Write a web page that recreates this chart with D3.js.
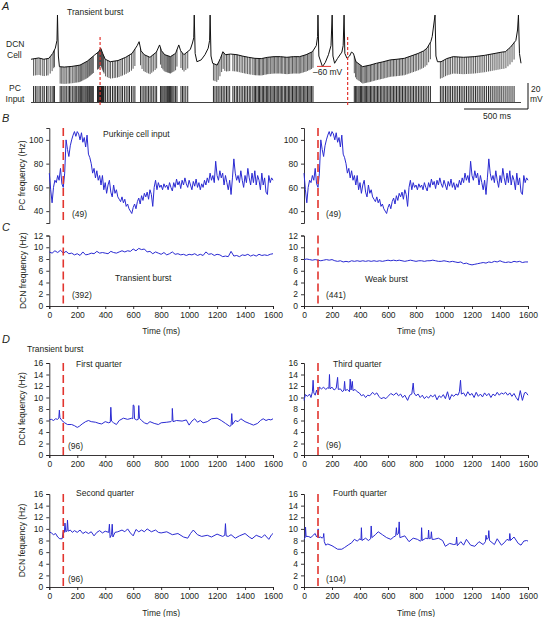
<!DOCTYPE html>
<html><head><meta charset="utf-8">
<script src="https://cdn.jsdelivr.net/npm/d3@7"></script>
<style>
body{margin:0;background:#fff;}
svg{display:block;font-family:"Liberation Sans",Arial,Helvetica,sans-serif;}
</style></head><body>
<svg id="chart" width="545" height="617"></svg>
<script>
// ---------------- DATA ----------------
// Panel A: DCN membrane potential key points [time ms, mV]
const dcnTrace = [[0,-52.5],[60,-51.5],[100,-52.5],[140,-51.8],[170,-48],[190,-44],[203,-38],[207,-18.5],[214,-50],[222,-58.2],[260,-58.5],[320,-58],[383,-57],[440,-54],[500,-49],[530,-46.7],[545,-44],[560,-48],[580,-52.5],[620,-54.4],[680,-53.5],[740,-51],[790,-48],[830,-42],[845,-39],[860,-46],[885,-49],[930,-51],[980,-47],[1005,-41.5],[1020,-46],[1045,-49],[1090,-50.5],[1130,-48],[1155,-41.5],[1170,-46],[1195,-49],[1220,-47],[1245,-45],[1262,-40],[1272,-36],[1276,-18.5],[1283,-48],[1297,-54.4],[1330,-53],[1360,-49],[1385,-44],[1396,-38],[1400,-18.5],[1407,-50],[1420,-55.6],[1455,-57],[1480,-52],[1500,-46.7],[1520,-49],[1560,-48.5],[1610,-49],[1650,-50],[1700,-51],[1750,-51.8],[1800,-52],[1850,-51],[1900,-50.5],[1950,-50.5],[2000,-51],[2050,-50.5],[2100,-50.5],[2150,-49],[2200,-46.7],[2230,-42],[2240,-35],[2243,-18.5],[2250,-50],[2278,-58.2],[2300,-55],[2325,-49],[2345,-42],[2354,-18.5],[2360,-50],[2373,-55.6],[2395,-52],[2430,-47],[2440,-42],[2447,-18.5],[2453,-48],[2470,-51.8],[2490,-50],[2505,-47],[2520,-48],[2540,-54.4],[2592,-58.2],[2650,-57],[2700,-55.6],[2750,-54.5],[2808,-53],[2860,-52.5],[2918,-51.8],[2970,-50],[3027,-48],[3070,-46],[3095,-44],[3125,-39],[3136,-35],[3158,-18.5],[3165,-50],[3177,-54.4],[3205,-54.4],[3250,-52],[3300,-50.5],[3380,-51],[3464,-50.5],[3545,-49.5],[3627,-48],[3680,-47],[3708,-46.7],[3750,-43],[3790,-38],[3803,-30],[3810,-18.5],[3818,-48],[3830,-55.6]];

// Panel A: Purkinje cell input spike times (ms)
const pcSpikes = [20,34,47,63,76,92,104,121,133,150,165,178,183,
228,240,251,265,276,290,301,312,326,337,350,358,369,377,388,396,405,414,423,431,440,447,456,463,471,479,487,
520,525,530,534,539,543,548,552,557,561,566,571,
583,597,610,622,637,650,662,676,688,703,715,730,744,758,770,785,798,812,
856,868,882,893,906,918,931,944,956,970,982,
1012,1022,1031,1040,1048,1057,1066,1074,1083,1091,1100,1109,1118,1130,1141,1172,1184,1196,1210,1225,
1426,1438,1452,1463,1477,1490,1502,1515,1528,1540,1553,
1578,1590,1604,1615,1628,1642,1655,1668,1680,1693,1706,1718,
1734,1745,1755,1766,1777,1786,1797,1808,1818,1829,1840,1850,1860,1871,1883,1893,1904,1915,1925,1936,1947,1957,1968,1980,1990,2001,2012,2022,2033,2044,2055,2065,2076,2087,2097,2108,2118,2129,2140,2150,2161,2172,2182,2193,2204,
2527,2537,2546,2556,2565,2575,2584,2594,2604,2613,2623,2633,2643,2654,2664,2675,2686,2697,2708,2719,2731,2742,2753,2765,2776,2788,2799,2811,2822,2834,2845,2857,2869,2881,2892,2904,2916,2928,2940,2953,2965,2978,2990,3003,3015,3028,3041,3054,3067,3080,3094,3108,3122,
3200,3213,3226,3240,3253,3267,3280,3294,3308,3321,3335,3349,3362,3376,3390,3404,3418,3432,3446,3460,3474,3488,3503,3517,3532,3546,3561,3576,3590,3605,3620,3635,3650,3665,3680,3696,3712,3728,3744,3760,3776];

const markerTimesA = [540, 2475];   // red dashed markers in A (ms)

// Panel B: PC frequency (Hz), 10 ms bins from 0 to 1600 ms
const pcStepMs = 10;
const pcFreqHz = [72,58,47,60,66,64,70,66,76,63,60,72,100,92,86,95,100,104,107,103,
107,105,100,106,98,102,94,104,88,85,80,72,76,68,74,66,70,62,70,58,
64,55,62,66,56,52,62,55,58,52,50,48,52,47,50,44,46,42,40,38,
43,46,42,48,51,46,53,49,55,52,56,50,58,54,44,60,66,58,64,60,
62,58,63,60,62,58,64,60,57,64,60,67,62,65,59,66,62,68,63,60,
66,62,58,65,61,67,60,64,58,63,60,66,62,68,64,72,66,70,64,82,
70,66,74,68,72,62,70,64,58,66,54,68,84,72,66,70,64,74,66,60,
70,64,76,68,62,72,64,74,62,70,66,58,72,62,68,56,54,70,64,68,66];

// Panel C: DCN frequency (Hz), 20 ms bins
const dcnStepMs = 20;
const dcnTransientHz = [9.2,9.0,9.4,9.1,9.5,9.0,9.3,8.9,9.0,8.7,8.9,8.6,9.2,8.7,8.8,9.0,8.9,9.3,9.0,9.1,
9.0,8.9,9.3,9.1,9.0,9.2,9.4,9.2,9.4,9.3,9.7,9.4,9.8,9.6,9.7,9.2,9.3,8.9,9.2,9.0,
8.8,9.1,8.7,8.9,9.2,8.8,8.9,8.7,8.8,8.6,8.8,8.7,8.9,8.6,8.8,8.6,9.2,8.8,8.9,8.6,
8.8,8.7,8.4,8.5,8.4,9.3,8.5,8.6,8.4,8.7,8.6,8.8,8.5,8.7,8.5,8.8,8.6,8.7,8.6,8.8,8.9];
const dcnWeakHz = [7.9,8.0,7.9,7.8,7.9,7.8,7.7,7.8,7.9,7.8,7.9,7.7,7.6,7.7,7.5,7.6,7.5,7.7,7.6,7.7,
7.6,7.7,7.6,7.7,7.6,7.7,7.6,7.7,7.6,7.7,7.8,7.7,7.8,7.7,7.8,7.7,7.6,7.7,7.8,7.7,
7.6,7.7,7.7,7.6,7.7,7.7,7.8,7.7,7.6,7.6,7.7,7.6,7.5,7.6,7.5,7.4,7.5,7.2,7.3,7.1,
7.0,7.1,7.2,7.3,7.4,7.3,7.5,7.4,7.6,7.5,7.7,7.5,7.4,7.5,7.4,7.6,7.5,7.6,7.4,7.5,7.5];

// Panel D: DCN frequency by quarter [time ms, Hz]
const dFirst = [[0,6.1],[15,6.2],[30,6.0],[45,6.3],[60,6.2],[68,6.4],[72,7.8],[76,6.5],[90,6.0],[110,5.6],[130,5.3],[160,5.3],[180,5.1],[200,4.8],[215,5.0],[235,5.4],[260,5.8],[280,6.0],[300,5.8],[330,5.7],[355,5.5],[375,5.4],[400,5.8],[425,5.6],[436,5.7],[440,8.3],[445,5.9],[460,5.6],[480,5.3],[500,6.0],[530,6.4],[560,6.2],[590,6.4],[597,6.3],[600,8.7],[606,8.6],[610,6.3],[625,6.1],[636,6.2],[640,8.6],[645,6.4],[660,6.0],[680,5.6],[700,5.4],[720,5.8],[750,5.5],[780,5.3],[800,5.6],[840,5.7],[870,5.8],[878,6.0],[880,8.1],[885,5.8],[910,6.0],[950,5.9],[980,6.1],[1000,5.2],[1020,5.9],[1040,6.3],[1060,5.7],[1080,6.0],[1100,5.6],[1130,5.8],[1160,6.3],[1200,6.4],[1230,6.0],[1260,5.5],[1290,5.0],[1300,5.1],[1305,7.2],[1310,5.3],[1330,6.0],[1350,5.8],[1370,6.3],[1400,5.8],[1430,5.5],[1460,5.2],[1490,5.5],[1510,6.0],[1530,6.3],[1550,6.0],[1570,6.2],[1585,6.1],[1600,6.3]];
const dSecond = [[0,9.5],[15,9.3],[30,9.0],[45,9.2],[60,8.6],[75,8.3],[92,8.3],[100,9.6],[108,9.4],[112,11.0],[118,9.5],[126,9.6],[130,11.5],[135,9.6],[150,9.8],[165,9.4],[180,9.7],[200,9.4],[220,9.8],[240,9.2],[260,9.5],[280,9.2],[300,9.5],[320,8.8],[340,9.4],[360,9.7],[380,9.3],[400,9.6],[425,9.4],[430,10.8],[435,8.5],[445,9.0],[450,10.8],[455,8.6],[470,9.4],[490,9.5],[520,9.8],[540,9.5],[560,10.0],[580,9.3],[600,8.8],[620,9.9],[640,9.5],[660,9.8],[680,9.5],[700,10.0],[730,9.5],[760,9.8],[780,9.4],[800,9.3],[840,9.5],[880,9.0],[920,9.2],[960,8.6],[990,8.4],[1010,9.2],[1030,9.8],[1060,9.0],[1090,8.7],[1130,8.9],[1160,8.6],[1200,9.1],[1240,8.7],[1255,8.9],[1260,10.9],[1265,8.8],[1280,8.7],[1300,9.0],[1330,8.4],[1360,8.8],[1400,9.2],[1430,8.6],[1450,8.3],[1480,8.9],[1520,8.5],[1540,9.0],[1570,8.2],[1590,9.0],[1600,9.2]];
const dThird = [[0,9.5],[10,10.5],[25,10.2],[40,10.6],[50,10.0],[60,11.0],[65,13.0],[70,10.8],[80,10.4],[90,11.3],[100,10.5],[110,11.8],[125,11.5],[140,11.8],[155,11.4],[170,11.7],[178,11.6],[182,14.0],[186,11.5],[200,11.8],[215,11.3],[230,11.6],[240,13.5],[245,11.4],[260,11.5],[275,11.0],[285,11.3],[290,12.8],[295,11.2],[310,11.4],[325,11.0],[330,13.2],[336,11.3],[345,12.8],[350,11.2],[365,11.4],[380,11.0],[395,10.8],[410,10.3],[425,10.5],[440,10.0],[455,10.4],[470,10.3],[490,10.9],[505,10.5],[520,10.8],[535,10.2],[550,9.8],[570,10.0],[585,9.8],[600,10.2],[620,10.7],[640,10.4],[660,10.8],[675,10.3],[690,10.6],[705,10.0],[720,10.4],[740,9.5],[755,10.4],[770,10.6],[780,12.5],[786,10.8],[800,10.3],[815,10.6],[830,10.0],[845,10.4],[860,9.8],[875,10.2],[890,9.9],[905,10.4],[920,10.1],[935,10.5],[950,9.6],[965,10.3],[980,10.0],[995,10.5],[1010,9.8],[1025,11.0],[1040,9.6],[1055,10.5],[1070,10.2],[1085,10.6],[1100,10.4],[1110,11.0],[1118,13.0],[1124,10.6],[1140,10.8],[1155,10.2],[1170,11.0],[1185,10.4],[1200,10.7],[1215,10.0],[1230,10.9],[1245,10.2],[1260,10.6],[1275,10.1],[1290,10.8],[1305,10.3],[1320,10.7],[1335,10.0],[1350,10.6],[1365,10.3],[1380,10.9],[1395,10.4],[1410,10.8],[1425,10.6],[1440,10.9],[1455,10.4],[1470,10.8],[1485,10.2],[1500,10.7],[1515,10.0],[1530,9.5],[1545,11.2],[1560,9.5],[1575,10.8],[1585,10.9],[1600,10.4]];
const dFourth = [[0,8.2],[8,8.5],[11,10.3],[15,8.7],[30,8.7],[50,8.5],[60,8.8],[80,9.2],[90,8.6],[98,8.8],[101,10.0],[105,8.5],[120,8.6],[130,8.4],[138,8.6],[141,9.2],[145,7.8],[155,7.2],[170,7.4],[200,7.1],[220,6.8],[240,6.5],[270,6.5],[290,6.8],[320,7.3],[340,7.6],[360,8.2],[380,7.9],[400,8.3],[407,8.1],[410,10.2],[414,8.0],[440,8.4],[460,8.0],[476,8.3],[480,10.5],[485,8.5],[510,9.0],[530,9.5],[560,9.0],[590,8.5],[620,8.2],[640,8.6],[655,8.8],[660,10.2],[664,9.0],[675,9.2],[680,11.2],[685,8.5],[720,8.8],[750,7.8],[780,8.4],[810,8.2],[830,7.9],[837,8.0],[840,10.2],[844,8.0],[870,8.4],[886,8.3],[890,9.8],[894,8.3],[906,8.4],[910,9.5],[915,8.2],[930,8.2],[960,8.4],[990,8.0],[1010,7.0],[1040,7.5],[1070,7.3],[1086,7.4],[1090,8.6],[1095,7.1],[1120,7.8],[1140,7.2],[1160,8.2],[1190,7.2],[1220,7.0],[1250,7.8],[1280,7.3],[1296,7.8],[1300,8.9],[1305,8.2],[1316,8.4],[1320,9.7],[1325,8.0],[1360,7.3],[1380,8.3],[1410,7.2],[1430,7.6],[1450,8.2],[1466,8.0],[1470,9.2],[1475,8.0],[1500,8.6],[1530,7.5],[1550,7.2],[1570,7.9],[1590,8.0],[1600,7.9]];

const stimTimeMs = 100;
const timeTicks = [0,200,400,600,800,1000,1200,1400,1600];
const pcTicks = [40,60,80,100];
const cTicks = [0,2,4,6,8,10,12];
const dTicks = [0,2,4,6,8,10,12,14,16];

// ---------------- DRAWING ----------------
const svg = d3.select("#chart");
const TXT = "#231f20", BLUE = "#2a2ad2", RED = "#e2352f";
const FS = 8.5;
const fmt = d3.format("d");

function label(x, y, s, opts = {}) {
  const t = svg.append("text").attr("x", x).attr("y", y).text(s)
    .attr("font-size", opts.size || FS).attr("fill", TXT)
    .attr("text-anchor", opts.anchor || "start");
  if (opts.italic) t.attr("font-style", "italic");
  if (opts.rotate) t.attr("transform", `rotate(-90,${x},${y})`);
  return t;
}

// ---- Panel A ----
const xA = d3.scaleLinear().domain([0, 3830]).range([31, 521]);
const yA = d3.scaleLinear().domain([-60, -40]).range([69, 43]);
const gA = svg.append("g");
const bis = d3.bisector(d => d[0]).left;
function vAt(t) {
  const i = Math.max(1, Math.min(dcnTrace.length - 1, bis(dcnTrace, t)));
  const a = dcnTrace[i - 1], b = dcnTrace[i];
  return a[1] + (b[1] - a[1]) * (t - a[0]) / (b[0] - a[0]);
}
// IPSP deflections at each PC spike
gA.append("g").selectAll("line").data(pcSpikes).join("line")
  .attr("x1", d => xA(d)).attr("x2", d => xA(d))
  .attr("y1", d => yA(vAt(d))).attr("y2", d => yA(vAt(d) - 13))
  .attr("stroke", "#333").attr("stroke-width", 0.8);
gA.append("path").datum(dcnTrace)
  .attr("d", d3.line().x(d => xA(d[0])).y(d => yA(d[1])))
  .attr("fill", "none").attr("stroke", "#111").attr("stroke-width", 1);
// raster
gA.append("g").selectAll("line").data(pcSpikes).join("line")
  .attr("x1", d => xA(d)).attr("x2", d => xA(d))
  .attr("y1", 86).attr("y2", 102)
  .attr("stroke", "#111").attr("stroke-width", 0.9);
gA.append("line").attr("x1", xA(0)).attr("x2", xA(3830)).attr("y1", 102.5).attr("y2", 102.5)
  .attr("stroke", "#111").attr("stroke-width", 0.8);
// red markers
gA.append("g").selectAll("line").data(markerTimesA).join("line")
  .attr("x1", d => xA(d)).attr("x2", d => xA(d)).attr("y1", 37).attr("y2", 107)
  .attr("stroke", RED).attr("stroke-width", 1.2).attr("stroke-dasharray", "3,2");
// -60 mV marker
gA.append("line").attr("x1", 317).attr("x2", 331).attr("y1", yA(-58)).attr("y2", yA(-58))
  .attr("stroke", RED).attr("stroke-width", 1);
label(313, 75, "–60 mV");
// scale bars
const sbX = 528, sbY = 109;
const px500 = xA(500) - xA(0), px20 = yA(-60) - yA(-40);
gA.append("path").attr("d", `M${sbX - px500},${sbY}H${sbX}V${sbY - px20}`)
  .attr("fill", "none").attr("stroke", "#111").attr("stroke-width", 1);
label(531, 92, "20");
label(530, 102, "mV");
label(497, 119, "500 ms", {anchor: "middle"});
label(2, 10, "A", {italic: true, size: 11});
label(67, 15, "Transient burst");
label(6, 47, "DCN");
label(7, 58, "Cell");
label(15, 91, "PC", {anchor: "middle"});
label(15, 102, "Input", {anchor: "middle"});

// ---- Frequency panels ----
function panel(o) {
  const x = d3.scaleLinear().domain([0, 1600]).range([o.x0, o.x1]);
  const y = d3.scaleLinear().domain(o.yDomain).range([o.yBot, o.yTop]);
  const g = svg.append("g");
  g.append("g").attr("transform", `translate(${o.x0},0)`)
    .call(d3.axisLeft(y).tickValues(o.yTicks).tickFormat(fmt).tickSize(3).tickSizeOuter(3).tickPadding(3));
  if (o.xAxis) {
    g.append("g").attr("transform", `translate(0,${o.yBot})`)
      .call(d3.axisBottom(x).tickValues(timeTicks).tickFormat(fmt).tickSize(3).tickSizeOuter(3).tickPadding(3));
  }
  g.selectAll(".domain").attr("stroke", TXT).attr("stroke-width", 0.9);
  g.selectAll(".tick line").attr("stroke", TXT).attr("stroke-width", 0.9);
  g.selectAll(".tick text").attr("font-size", FS).attr("fill", TXT)
    .attr("font-family", '"Liberation Sans",Arial,sans-serif');
  g.append("path").datum(o.data)
    .attr("d", d3.line().x(d => x(d[0])).y(d => y(d[1])))
    .attr("fill", "none").attr("stroke", BLUE).attr("stroke-width", 1);
  g.append("line").attr("x1", x(stimTimeMs)).attr("x2", x(stimTimeMs))
    .attr("y1", o.yTop).attr("y2", o.yBot)
    .attr("stroke", RED).attr("stroke-width", 1.6).attr("stroke-dasharray", o.dash || "8,4");
  (o.texts || []).forEach(t => label(t[0], t[1], t[2]));
  if (o.xTitle) label((o.x0 + o.x1) / 2, o.xTitleY, "Time (ms)", {anchor: "middle"});
  if (o.yTitle) label(o.yTitleX, (o.yTop + o.yBot) / 2, o.yTitle, {anchor: "middle", rotate: true});
}
const L = [49.3, 273], R = [304, 528];
const pcSeries = pcFreqHz.map((v, i) => [i * pcStepMs, v]);
const cTrans = dcnTransientHz.map((v, i) => [i * dcnStepMs, v]);
const cWeak = dcnWeakHz.map((v, i) => [i * dcnStepMs, v]);

label(2, 122, "B", {italic: true, size: 11});
panel({x0: L[0], x1: L[1], yTop: 128, yBot: 223, yDomain: [30, 110], yTicks: pcTicks, data: pcSeries,
  yTitle: "PC frequency (Hz)", yTitleX: 25, texts: [[103, 137, "Purkinje cell input"], [72, 217, "(49)"]]});
panel({x0: R[0], x1: R[1], yTop: 128, yBot: 223, yDomain: [30, 110], yTicks: pcTicks, data: pcSeries,
  texts: [[326, 217, "(49)"]]});

label(2, 231, "C", {italic: true, size: 11});
panel({x0: L[0], x1: L[1], yTop: 235.5, yBot: 306, yDomain: [0, 12], yTicks: cTicks, data: cTrans, xAxis: true,
  xTitle: true, xTitleY: 334, yTitle: "DCN frequency (Hz)", yTitleX: 26,
  texts: [[115, 281, "Transient burst"], [72, 298, "(392)"]]});
panel({x0: R[0], x1: R[1], yTop: 235.5, yBot: 306, yDomain: [0, 12], yTicks: cTicks, data: cWeak, xAxis: true,
  xTitle: true, xTitleY: 334, texts: [[365, 282, "Weak burst"], [326, 298, "(441)"]]});

label(2, 343, "D", {italic: true, size: 11});
label(27, 352, "Transient burst");
panel({x0: L[0], x1: L[1], yTop: 363, yBot: 455, yDomain: [0, 16], yTicks: dTicks, data: dFirst, xAxis: true,
  yTitle: "DCN fequency (Hz)", yTitleX: 25, texts: [[76, 367, "First quarter"], [68, 449, "(96)"]]});
panel({x0: R[0], x1: R[1], yTop: 363, yBot: 455, yDomain: [0, 16], yTicks: dTicks, data: dThird, xAxis: true,
  texts: [[333, 367, "Third quarter"], [326, 448, "(96)"]]});
panel({x0: L[0], x1: L[1], yTop: 494, yBot: 587, yDomain: [0, 16], yTicks: dTicks, data: dSecond, xAxis: true,
  xTitle: true, xTitleY: 616, yTitle: "DCN fequency (Hz)", yTitleX: 25,
  texts: [[76, 496, "Second quarter"], [68, 582, "(96)"]]});
panel({x0: R[0], x1: R[1], yTop: 494, yBot: 587, yDomain: [0, 16], yTicks: dTicks, data: dFourth, xAxis: true,
  xTitle: true, xTitleY: 616, texts: [[333, 496, "Fourth quarter"], [326, 582, "(104)"]]});
</script>
</body></html>
